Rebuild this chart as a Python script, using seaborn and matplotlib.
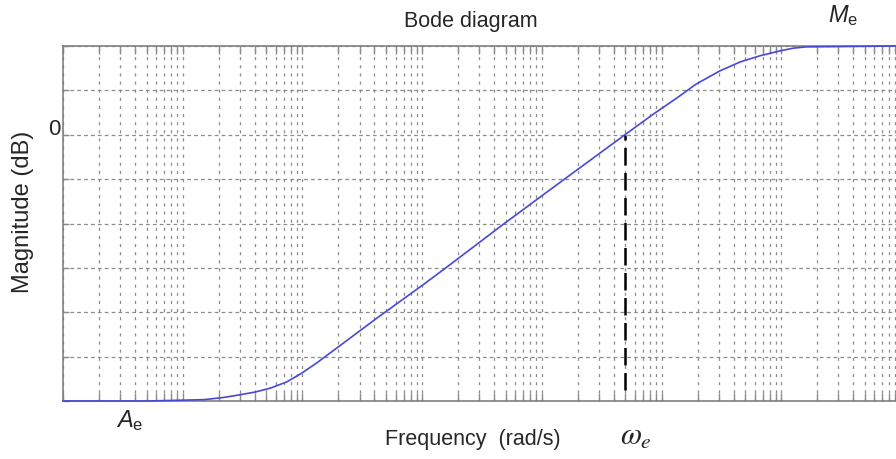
import matplotlib
matplotlib.use("Agg")
import matplotlib.pyplot as plt
import seaborn as sns
import pandas as pd
import numpy as np
from matplotlib.ticker import LogLocator, NullFormatter, FixedLocator

# ---- data ----
freq = [0.01, 0.05, 0.15, 0.22, 0.30, 0.40, 0.54, 0.74, 0.99, 1.32, 1.8, 4.2,
        10.2, 16.5, 47, 108, 182, 495, 850, 1380, 1940, 3080, 4530, 6650,
        9770, 12550, 16100, 91000]
mag_db = [-60, -60, -59.7, -59.2, -58.6, -58.0, -57.1, -55.7, -53.7, -51.4,
          -48.7, -41.3, -33.8, -29.6, -20.3, -13.1, -8.6, 0, 4.6, 8.5, 11.4,
          14.4, 16.4, 17.8, 18.9, 19.5, 19.8, 20]
omega_e = 495          # crossover frequency (dashed marker)
omega_e_bottom = -57.5 # lower end of the dashed marker
y_ticks = [-60, -50, -40, -30, -20, -10, 0, 10, 20]
x_limits = (0.01, 91000)
y_limits = (-60, 20)

df = pd.DataFrame({"freq": freq, "mag": mag_db})

sns.set_theme(style="white")
plt.rcParams["font.family"] = ["Liberation Sans", "DejaVu Sans"]
plt.rcParams["mathtext.fontset"] = "custom"
plt.rcParams["mathtext.rm"] = "Liberation Sans"
plt.rcParams["mathtext.it"] = "Liberation Sans:italic"

W, H = 896, 460
fig = plt.figure(figsize=(W / 100, H / 100), dpi=100)
ax = fig.add_axes([63 / W, 1 - 402 / H, (W - 63) / W, (402 - 47) / H])

grid_col = "#8c8c8c"
sns.lineplot(data=df, x="freq", y="mag", ax=ax, color="#4848d8", lw=1.2,
             clip_on=False, zorder=5)
ax.set_xscale("log")
ax.set_xlim(*x_limits)
ax.set_ylim(*y_limits)

ax.xaxis.set_major_locator(LogLocator(base=10, numticks=20))
ax.xaxis.set_minor_locator(LogLocator(base=10, subs=np.arange(2, 10), numticks=200))
ax.xaxis.set_major_formatter(NullFormatter())
ax.xaxis.set_minor_formatter(NullFormatter())
ax.yaxis.set_major_locator(FixedLocator(y_ticks))
ax.set_yticklabels([])

ax.grid(which="both", axis="x", color=grid_col, ls=(0, (2.5, 4)), lw=0.9)
ax.grid(which="major", axis="y", color=grid_col, ls=(0, (3, 2.5)), lw=0.9)

ax.tick_params(axis="x", which="both", direction="in", top=True, bottom=True,
               length=6, width=1, color=grid_col, labelbottom=False)
ax.tick_params(axis="y", which="major", direction="in", left=True, right=False,
               length=4, width=1, color=grid_col)

for side in ["left", "top", "bottom"]:
    ax.spines[side].set_color("#808080")
    ax.spines[side].set_linewidth(1.2)
ax.spines["right"].set_visible(False)

# dashed crossover marker
ax.vlines(omega_e, omega_e_bottom, 0, colors="black", lw=1.8,
          linestyles=(0, (7, 3)), zorder=6)

# labels
ax.set_xlabel("Frequency  (rad/s)", fontsize=15.5)
ax.xaxis.set_label_coords((473 - 63) / (W - 63), -(440 - 402) / 355)
ax.xaxis.label.set_va("center")
ax.set_ylabel("Magnitude (dB)", fontsize=17)
ax.yaxis.set_label_coords((23 - 63) / (W - 63), (402 - 212) / 355)
ax.yaxis.label.set_va("center")

fig.text(471 / W, 1 - 22 / H, "Bode diagram", ha="center", va="center", fontsize=15.5)
fig.text(54 / W, 1 - 130 / H, "0", ha="center", va="center", fontsize=16)
fig.text(130 / W, 1 - 421 / H, r"$A_{\mathrm{e}}$", ha="center", va="center", fontsize=17)
fig.text(843 / W, 1 - 16 / H, r"$M_{\mathrm{e}}$", ha="center", va="center", fontsize=17)
fig.text(636 / W, 1 - 437 / H, r"$\omega_e$", ha="center", va="center", fontsize=22,
         math_fontfamily="stix")

fig.savefig("out.png", dpi=100)
